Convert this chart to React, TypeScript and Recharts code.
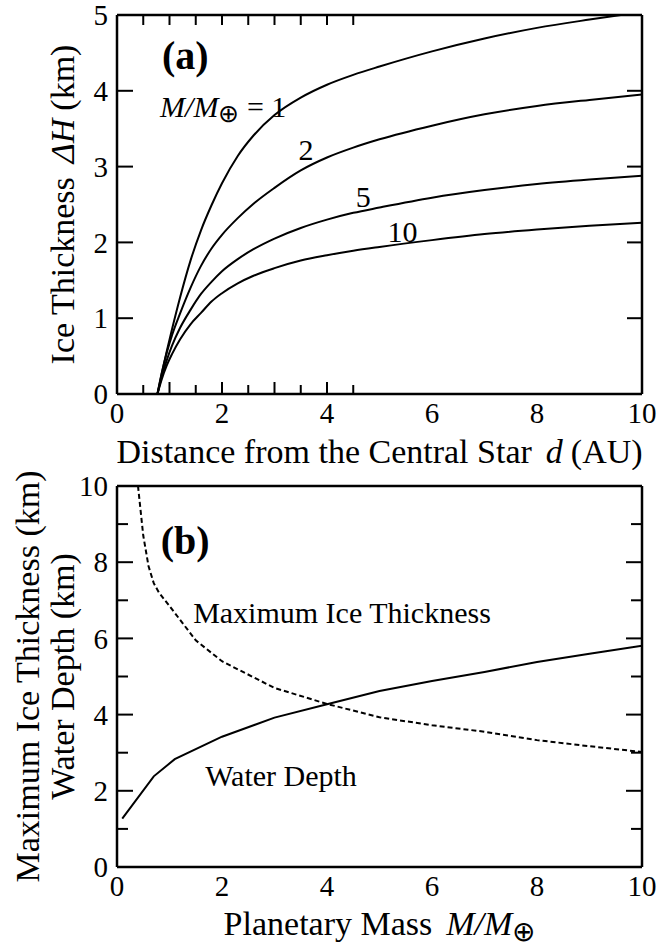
import React from 'react';
import { LineChart, Line, XAxis, YAxis, ReferenceDot } from 'recharts';

const FONT = '"Liberation Serif", "Times New Roman", Times, serif';

// ---------- Panel (a): ice thickness vs distance ----------
const distanceAU = [0.77, 0.85, 0.95, 1.05, 1.2, 1.4, 1.6, 1.8, 2.0, 2.3, 2.6, 3.0, 3.5, 4.0, 4.5, 5, 6, 7, 8, 9, 10];
const iceMass1 = [0, 0.26, 0.57, 0.86, 1.27, 1.76, 2.16, 2.49, 2.78, 3.14, 3.41, 3.68, 3.91, 4.08, 4.21, 4.32, 4.52, 4.69, 4.83, 4.94, 5.04];
const iceMass2 = [0, 0.27, 0.55, 0.78, 1.06, 1.4, 1.69, 1.92, 2.1, 2.32, 2.51, 2.72, 2.95, 3.12, 3.25, 3.36, 3.54, 3.69, 3.8, 3.88, 3.95];
const iceMass5 = [0, 0.22, 0.45, 0.64, 0.87, 1.11, 1.32, 1.48, 1.62, 1.78, 1.91, 2.05, 2.19, 2.3, 2.39, 2.46, 2.59, 2.69, 2.77, 2.83, 2.88];
const iceMass10 = [0, 0.19, 0.38, 0.53, 0.72, 0.92, 1.07, 1.22, 1.33, 1.46, 1.56, 1.66, 1.76, 1.83, 1.89, 1.94, 2.03, 2.11, 2.17, 2.22, 2.26];

const xTicksA = [0, 2, 4, 6, 8, 10];
const xMinor = [1, 3, 5, 7, 9];
const xMajorInner = [2, 4, 6, 8];
const xAll = [1, 2, 3, 4, 5, 6, 7, 8, 9];
const yTicksA = [0, 1, 2, 3, 4, 5];
const yInnerA = [1, 2, 3, 4];

// ---------- Panel (b): water depth / max ice vs mass ----------
const massWater = [0.1, 0.7, 1.1, 2, 3, 4, 5, 6, 7, 8, 9, 10];
const waterDepth = [1.27, 2.38, 2.83, 3.42, 3.92, 4.27, 4.62, 4.88, 5.12, 5.38, 5.6, 5.81];
const massIce = [0.4, 0.5, 0.6, 0.7, 0.8, 1.0, 1.5, 2, 3, 4, 5, 6, 7, 8, 9, 10];
const maxIce = [10.0, 8.7, 7.9, 7.45, 7.2, 6.85, 5.95, 5.4, 4.7, 4.28, 3.93, 3.72, 3.55, 3.33, 3.17, 3.02];

const xTicksB = [0, 2, 4, 6, 8, 10];
const yTicksB = [0, 2, 4, 6, 8, 10];
const yMinorB = [1, 3, 5, 7, 9];
const yMajorB = [2, 4, 6, 8];

// annotation anchors (data coordinates)
const labelA = { panel: [1.3, 4.46], mass: [0.82, 3.65], m2: [3.6, 3.22], m5: [4.69, 2.6], m10: [5.44, 2.14] };
const labelB = { panel: [1.3, 8.56], ice: [1.45, 6.4], water: [1.68, 2.13] };

const rowsA = distanceAU.map((d, i) => ({ d, m1: iceMass1[i], m2: iceMass2[i], m5: iceMass5[i], m10: iceMass10[i] }));
const waterRows = massWater.map((m, i) => ({ m, v: waterDepth[i] }));
const iceRows = massIce.map((m, i) => ({ m, v: maxIce[i] }));

const AX = { stroke: '#000', strokeWidth: 2.5 };
const TL = { stroke: '#000', strokeWidth: 2 };
const TICKFONT = { fontSize: 29, fill: '#000', fontFamily: FONT };
const noTick = () => <g />;

const txt = (content: React.ReactNode, opts: any = {}) => (p: any) => (
  <text
    x={p.cx}
    y={p.cy}
    fontFamily={FONT}
    fontSize={opts.size || 30}
    fontWeight={opts.weight || 'normal'}
    textAnchor={opts.anchor || 'middle'}
    dominantBaseline={opts.baseline || 'central'}
    fill="#000"
  >
    {content}
  </text>
);

function innerX(prefix: string, topSize: number) {
  return [
    <XAxis key={prefix + 't'} xAxisId={prefix + 't'} orientation="top" mirror type="number" domain={[0, 10]} allowDataOverflow ticks={xAll} interval={0} height={1} tickSize={topSize} tick={noTick} tickLine={TL} axisLine={AX} />,
    <XAxis key={prefix + 'bM'} xAxisId={prefix + 'bM'} orientation="bottom" mirror type="number" domain={[0, 10]} allowDataOverflow ticks={xMajorInner} interval={0} height={1} tickSize={12} tick={noTick} tickLine={TL} axisLine={false} />,
    <XAxis key={prefix + 'bm'} xAxisId={prefix + 'bm'} orientation="bottom" mirror type="number" domain={[0, 10]} allowDataOverflow ticks={xMinor} interval={0} height={1} tickSize={8} tick={noTick} tickLine={TL} axisLine={false} />,
  ];
}

export default function App() {
  return (
    <div style={{ position: 'absolute', left: 0, top: 0, width: 661, height: 946, background: '#fff' }}>
      {/* Panel (a) */}
      <div style={{ position: 'absolute', left: 0, top: 0 }}>
        <LineChart width={661} height={470} data={rowsA} margin={{ top: 15, right: 19, bottom: 0, left: 0 }}>
          <XAxis
            xAxisId="x"
            dataKey="d"
            type="number"
            domain={[0, 10]}
            allowDataOverflow
            ticks={xTicksA}
            interval={0}
            height={76}
            tickLine={false}
            tickSize={6}
            tickMargin={2}
            axisLine={AX}
            tick={TICKFONT}
            label={(p: any) => {
              const vb = p.viewBox;
              return (
                <text x={vb.x + vb.width / 2} y={vb.y + 69} textAnchor="middle" fontFamily={FONT} fontSize={34} fill="#000">
                  Distance from the Central Star
                  <tspan dx={14} fontStyle="italic">d</tspan>
                  <tspan dx={8}>(AU)</tspan>
                </text>
              );
            }}
          />
          {innerX('a', 10)}
          <YAxis
            yAxisId="y"
            type="number"
            domain={[0, 5]}
            allowDataOverflow
            ticks={yTicksA}
            interval={0}
            width={117}
            tickLine={false}
            tickSize={6}
            tickMargin={3}
            axisLine={AX}
            tick={TICKFONT}
            label={(p: any) => {
              const vb = p.viewBox;
              const cx = vb.x + 62;
              const cy = vb.y + vb.height / 2;
              return (
                <text x={cx} y={cy} transform={`rotate(-90 ${cx} ${cy})`} textAnchor="middle" dominantBaseline="central" fontFamily={FONT} fontSize={34} fill="#000">
                  Ice Thickness
                  <tspan dx={14} fontStyle="italic">ΔH</tspan>
                  <tspan dx={8}>(km)</tspan>
                </text>
              );
            }}
          />
          <YAxis yAxisId="yl" orientation="left" mirror type="number" domain={[0, 5]} allowDataOverflow ticks={yInnerA} interval={0} width={1} tickSize={16} tick={noTick} tickLine={TL} axisLine={false} />
          <YAxis yAxisId="yr" orientation="right" mirror type="number" domain={[0, 5]} allowDataOverflow ticks={yInnerA} interval={0} width={1} tickSize={15} tick={noTick} tickLine={TL} axisLine={AX} />

          {(['m1', 'm2', 'm5', 'm10'] as const).map((k) => (
            <Line key={k} xAxisId="x" yAxisId="y" dataKey={k} type="monotone" stroke="#000" strokeWidth={2} dot={false} activeDot={false} isAnimationActive={false} />
          ))}

          <ReferenceDot xAxisId="x" yAxisId="y" x={labelA.panel[0]} y={labelA.panel[1]} r={0} shape={txt('(a)', { size: 40, weight: 'bold' })} />
          <ReferenceDot
            xAxisId="x"
            yAxisId="y"
            x={labelA.mass[0]}
            y={labelA.mass[1]}
            r={0}
            shape={txt(
              <>
                <tspan fontStyle="italic">M</tspan>
                <tspan fontStyle="italic">/M</tspan>
                <tspan fontSize={25} dy={5}>⊕</tspan>
                <tspan dy={-5}> = 1</tspan>
              </>,
              { anchor: 'start', baseline: 'alphabetic' }
            )}
          />
          <ReferenceDot xAxisId="x" yAxisId="y" x={labelA.m2[0]} y={labelA.m2[1]} r={0} shape={txt('2')} />
          <ReferenceDot xAxisId="x" yAxisId="y" x={labelA.m5[0]} y={labelA.m5[1]} r={0} shape={txt('5')} />
          <ReferenceDot xAxisId="x" yAxisId="y" x={labelA.m10[0]} y={labelA.m10[1]} r={0} shape={txt('10')} />
        </LineChart>
      </div>

      {/* Panel (b) */}
      <div style={{ position: 'absolute', left: 0, top: 470 }}>
        <LineChart width={661} height={476} margin={{ top: 16, right: 19, bottom: 0, left: 0 }}>
          <XAxis
            xAxisId="x"
            dataKey="m"
            type="number"
            domain={[0, 10]}
            allowDataOverflow
            ticks={xTicksB}
            interval={0}
            height={79}
            tickLine={false}
            tickSize={6}
            tickMargin={2}
            axisLine={AX}
            tick={TICKFONT}
            label={(p: any) => {
              const vb = p.viewBox;
              return (
                <text x={vb.x + vb.width / 2} y={vb.y + 68} textAnchor="middle" fontFamily={FONT} fontSize={34} fill="#000">
                  Planetary Mass
                  <tspan dx={14} fontStyle="italic">M</tspan>
                  <tspan fontStyle="italic">/M</tspan>
                  <tspan fontSize={28} dy={6}>⊕</tspan>
                </text>
              );
            }}
          />
          {innerX('b', 9)}
          <YAxis
            yAxisId="y"
            type="number"
            domain={[0, 10]}
            allowDataOverflow
            ticks={yTicksB}
            interval={0}
            width={117}
            tickLine={false}
            tickSize={6}
            tickMargin={3}
            axisLine={AX}
            tick={TICKFONT}
            label={(p: any) => {
              const vb = p.viewBox;
              const cy = vb.y + vb.height / 2;
              const c1 = vb.x + 27;
              const c2 = vb.x + 62;
              return (
                <g>
                  <text x={c1} y={cy} transform={`rotate(-90 ${c1} ${cy})`} textAnchor="middle" dominantBaseline="central" fontFamily={FONT} fontSize={34} fill="#000">
                    Maximum Ice Thickness (km)
                  </text>
                  <text x={c2} y={cy} transform={`rotate(-90 ${c2} ${cy})`} textAnchor="middle" dominantBaseline="central" fontFamily={FONT} fontSize={34} fill="#000">
                    Water Depth (km)
                  </text>
                </g>
              );
            }}
          />
          <YAxis yAxisId="ylM" orientation="left" mirror type="number" domain={[0, 10]} allowDataOverflow ticks={yMajorB} interval={0} width={1} tickSize={16} tick={noTick} tickLine={TL} axisLine={false} />
          <YAxis yAxisId="ylm" orientation="left" mirror type="number" domain={[0, 10]} allowDataOverflow ticks={yMinorB} interval={0} width={1} tickSize={10} tick={noTick} tickLine={TL} axisLine={false} />
          <YAxis yAxisId="yrM" orientation="right" mirror type="number" domain={[0, 10]} allowDataOverflow ticks={yMajorB} interval={0} width={1} tickSize={16} tick={noTick} tickLine={TL} axisLine={AX} />
          <YAxis yAxisId="yrm" orientation="right" mirror type="number" domain={[0, 10]} allowDataOverflow ticks={yMinorB} interval={0} width={1} tickSize={10} tick={noTick} tickLine={TL} axisLine={false} />

          <Line xAxisId="x" yAxisId="y" data={waterRows} dataKey="v" type="linear" stroke="#000" strokeWidth={2} dot={false} activeDot={false} isAnimationActive={false} />
          <Line xAxisId="x" yAxisId="y" data={iceRows} dataKey="v" type="linear" stroke="#000" strokeWidth={2} strokeDasharray="5 3" dot={false} activeDot={false} isAnimationActive={false} />

          <ReferenceDot xAxisId="x" yAxisId="y" x={labelB.panel[0]} y={labelB.panel[1]} r={0} shape={txt('(b)', { size: 40, weight: 'bold' })} />
          <ReferenceDot xAxisId="x" yAxisId="y" x={labelB.ice[0]} y={labelB.ice[1]} r={0} shape={txt('Maximum Ice Thickness', { anchor: 'start', baseline: 'alphabetic' })} />
          <ReferenceDot xAxisId="x" yAxisId="y" x={labelB.water[0]} y={labelB.water[1]} r={0} shape={txt('Water Depth', { anchor: 'start', baseline: 'alphabetic' })} />
        </LineChart>
      </div>
    </div>
  );
}
